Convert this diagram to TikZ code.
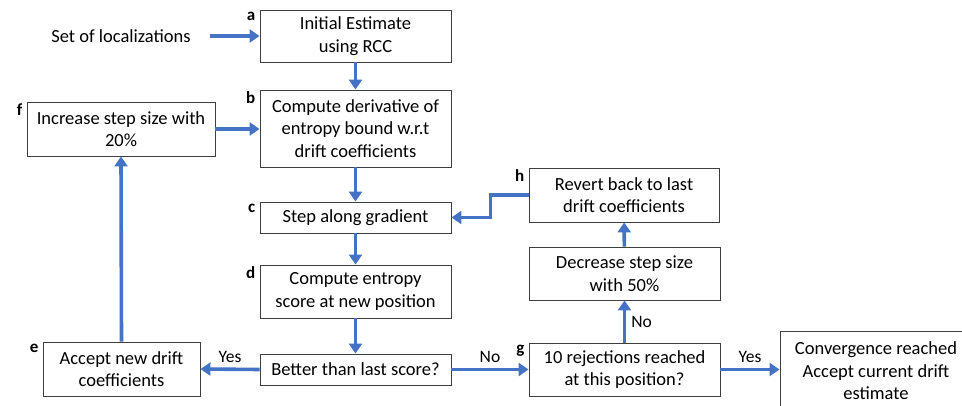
\documentclass[tikz,border=0pt]{standalone}
\usepackage{fontspec}
\setmainfont{Carlito}
\usepackage{tikz}
\usetikzlibrary{arrows.meta}
\definecolor{flowblue}{HTML}{4472C4}
\definecolor{boxgray}{HTML}{3F3F3F}
\tikzstyle{stepbox} = [draw=boxgray, fill=white, line width=0.9pt,
    rectangle, align=center, inner sep=2pt, minimum width=191pt]
\tikzstyle{steptag} = [font=\fontsize{17}{18}\selectfont\bfseries, anchor=north east,
    inner sep=2pt, xshift=-2pt]
\tikzstyle{flowarrow} = [draw=flowblue, line width=3.6pt,
    -{Triangle[width=13pt,length=10pt]}]
\tikzstyle{answer} = [font=\fontsize{17.5}{20}\selectfont, inner sep=2pt]

\begin{document}
\begin{tikzpicture}[x=1pt,y=-1pt,font=\fontsize{18.5}{22.5}\selectfont]
\useasboundingbox (0,0) rectangle (962,406);
% main column
\node (set) at (121,36) {Set of localizations};
\node [stepbox, minimum height=52pt] (a) at (355.5,36) {Initial Estimate\\using RCC};
\node [stepbox, minimum height=77pt] (b) at (355.5,128.5) {Compute derivative of\\entropy bound w.r.t\\drift coefficients};
\node [stepbox, minimum height=31pt] (c) at (355.5,217.5) {Step along gradient};
\node [stepbox, minimum height=53pt] (d) at (355.5,291.5) {Compute entropy\\score at new position};
\node [stepbox, minimum height=31pt] (better) at (355.5,369.5) {Better than last score?};
% left column
\node [stepbox, minimum width=157pt, minimum height=54pt] (e) at (121.5,369) {Accept new drift\\coefficients};
\node [stepbox, minimum width=188pt, minimum height=54pt] (f) at (121,129) {Increase step size with\\20\%};
% right column
\node [stepbox, minimum height=53pt] (g) at (624.5,369.5) {10 rejections reached\\at this position?};
\node [stepbox, minimum height=53pt] (dec) at (624.5,273.5) {Decrease step size\\with 50\%};
\node [stepbox, minimum width=190pt, minimum height=54pt] (h) at (624,195) {Revert back to last\\drift coefficients};
\node [stepbox, minimum width=192pt, minimum height=80pt] (conv) at (876,371) {Convergence reached\\Accept current drift\\estimate};
% letters
\node [steptag] at (a.north west) {a};
\node [steptag] at (b.north west) {b};
\node [steptag] at (c.north west) {c};
\node [steptag] at (d.north west) {d};
\node [steptag] at (e.north west) {e};
\node [steptag] at (f.north west) {f};
\node [steptag] at (g.north west) {g};
\node [steptag] at (h.north west) {h};
% arrows
\draw [flowarrow, shorten <=16pt] (set.east) -- (a.west);
\draw [flowarrow] (a) -- (b);
\draw [flowarrow] (b) -- (c);
\draw [flowarrow] (c) -- (d);
\draw [flowarrow] (d) -- (better);
\draw [flowarrow] (better.west) -- node[answer, above=3pt] {Yes} (e.east);
\draw [flowarrow] (e.north) -- (f.south);
\draw [flowarrow] (f.east) -- (f.east -| b.west);
\draw [flowarrow] (better.east) -- node[answer, above=3pt] {No} (g.west);
\draw [flowarrow] (g) -- node[answer, right=3pt] {No} (dec);
\draw [flowarrow] (dec) -- (h);
\draw [flowarrow] (h.west) -- ++(-38,0) |- (c.east);
\draw [flowarrow] (g.east) -- node[answer, above=3pt] {Yes} (g.east -| conv.west);
\end{tikzpicture}
\end{document}
